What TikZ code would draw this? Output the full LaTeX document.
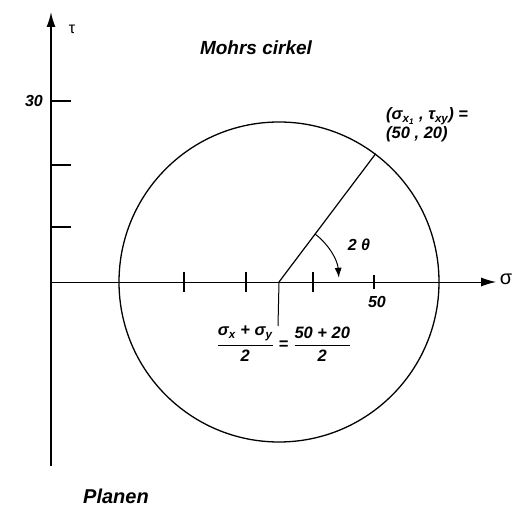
\documentclass[tikz,border=0pt]{standalone}
\usepackage{fontspec}
\usepackage{amsmath}
\setmainfont{Liberation Sans}
\usetikzlibrary{arrows.meta,calc}
\tikzset{
  lbl/.style={font=\bfseries\itshape\fontsize{16}{18}\selectfont, inner sep=0pt},
  axlbl/.style={font=\fontsize{18}{20}\selectfont, inner sep=0pt},
  tick/.style={line width=1.1pt},
  bigtip/.style={-{Latex[length=15pt,width=9pt]}},
}
\begin{document}
\begin{tikzpicture}[x=1pt,y=1pt]
\useasboundingbox (0,0) rectangle (515,506);
% axes
\coordinate (vbot) at (51,40);
\coordinate (vtop) at (51,494);
\coordinate (hleft) at (51,224);
\coordinate (hright) at (496,224);
\draw[line width=1.6pt, bigtip] (vbot) -- (vtop);
\draw[line width=0.9pt, bigtip] (hleft) -- (hright);
\node[axlbl, font=\fontsize{16}{18}\selectfont] (tau) at (72,477) {τ};
\node[axlbl, font=\fontsize{20}{22}\selectfont] (sig) at (506,227) {σ};
% vertical ticks
\foreach \y/\n in {405/t30,341/t20,279/t10}{
  \coordinate (\n a) at (51,\y);
  \coordinate (\n b) at (71,\y);
  \draw[tick] (\n a) -- (\n b);
}
\node[lbl, anchor=east] (l30) at (43,405) {30};
% horizontal ticks
\foreach \x/\n in {184/h1,246/h2,313/h3}{
  \coordinate (\n a) at (\x,214);
  \coordinate (\n b) at (\x,234);
  \draw[tick] (\n a) -- (\n b);
}
\coordinate (h4a) at (374,217);
\coordinate (h4b) at (374,231);
\draw[tick] (h4a) -- (h4b);
\node[lbl] (l50) at (377,204) {50};
% circle
\coordinate (C) at (279,224);
\node[draw, circle, line width=1.3pt, minimum size=320pt, inner sep=0pt] (circ) at (C) {};
\draw[line width=1.2pt] (C) -- (circ.53.13);
% angle arc
\draw[line width=1pt, -{Latex[length=10pt,width=7pt]}] ($(C)+(53.13:60)$) arc[start angle=53.13, end angle=4, radius=60];
\node[lbl] (two) at (359,261) {2 θ};
% point label
\node[lbl, font=\bfseries\itshape\fontsize{16.5}{18}\selectfont, anchor=base west] (pt1) at (386,386) {(σ\textsubscript{x\textsubscript{1}} , τ\textsubscript{xy}) =};
\node[lbl, font=\bfseries\itshape\fontsize{16.5}{18}\selectfont, anchor=base west] (pt2) at (386,367) {(50 , 20)};
% center label
\node[lbl, font=\bfseries\itshape\fontsize{16.5}{18}\selectfont] (frac) at (284,162) {$\genfrac{}{}{1.3pt}{0}{\mbox{σ\textsubscript{x} + σ\textsubscript{y}}}{\mbox{2}}$\hspace{5pt}=\hspace{5pt}$\genfrac{}{}{1.3pt}{0}{\mbox{50 + 20}}{\mbox{2}}$};
\coordinate (fractop) at (278,180);
\draw[line width=1pt] (fractop) -- (C);
% titles
\node[lbl, font=\bfseries\itshape\fontsize{19}{21}\selectfont] (title) at (256,458) {Mohrs cirkel};
\node[lbl, font=\bfseries\itshape\fontsize{20}{22}\selectfont] (plan) at (116,10) {Planen};
\end{tikzpicture}
\end{document}
